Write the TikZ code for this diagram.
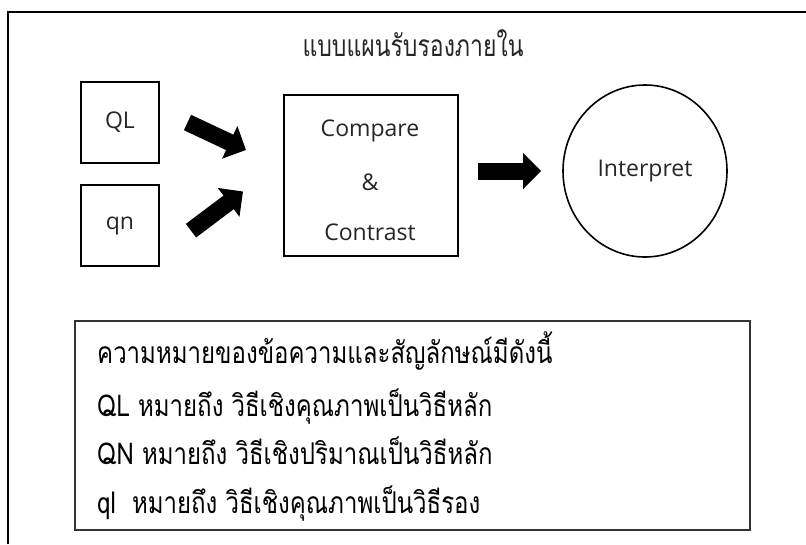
\documentclass[tikz,border=0pt]{standalone}
\usepackage{fontspec}
\setmainfont{Open Sans}
\newfontfamily\thaifont[Script=Thai]{Loma}
\usetikzlibrary{arrows.meta,shapes.geometric}
\newcommand{\tallthai}[1]{\scalebox{1}[1.3]{#1}}
\newcommand{\talllegend}[1]{\scalebox{1}[1.25]{#1}}
\tikzset{
  frameline/.style={line width=1.4pt, black},
  inbox/.style={draw=black, line width=1.8pt, inner sep=0pt, font=\fontsize{23}{27}\selectfont, text=black!85},
  lbl/.style={font=\fontsize{23}{27}\selectfont, text=black!85, inner sep=0pt},
  bigarrow/.style={line width=17pt, -{Triangle[length=18pt,width=35pt]}},
  thaitext/.style={anchor=base west, inner sep=0pt, font=\thaifont\fontsize{24}{28}\selectfont, text=black},
}
\begin{document}
\begin{tikzpicture}[x=1pt,y=-1pt]
\useasboundingbox (0,0) rectangle (806,544);
\fill[white] (0,0) rectangle (806,544);
% outer frame (open on the right and bottom)
\coordinate (fb) at (8,544);
\coordinate (fr) at (806,12);
\draw[frameline] (fb) |- (fr);
% title
\node[anchor=base, inner sep=0pt, font=\thaifont\fontsize{23}{27}\selectfont, text=black!85] (title) at (413,56) {\tallthai{แบบแผนรับรองภายใน}};
% boxes
\node[inbox, minimum width=78pt, minimum height=81pt] (ql) at (120,122.5) {QL};
\node[inbox, minimum width=78pt, minimum height=81pt] (qn) at (120,225.5) {qn};
\node[inbox, minimum width=174pt, minimum height=161pt] (cc) at (371,175.5) {};
\node[lbl] (t1) at (370,131) {Compare};
\node[lbl] (t2) at (370,182) {\&};
\node[lbl] (t3) at (370,232) {Contrast};
\node[draw=black, line width=1.6pt, ellipse, minimum width=164pt, minimum height=172pt, inner sep=0pt, font=\fontsize{23}{27}\selectfont, text=black!85] (ip) at (645,171) {Interpret};
% block arrows
\coordinate (a1s) at (187.5,122.5);
\coordinate (a1e) at (246,150);
\coordinate (a2s) at (191,230.7);
\coordinate (a2e) at (243,191.5);
\draw[bigarrow] (a1s) -- (a1e);
\draw[bigarrow] (a2s) -- (a2e);
\draw[bigarrow, shorten <=19pt, shorten >=21pt] (cc.east |- ip.center) -- (ip.west);
% legend box
\node[draw=black!80, line width=1.1pt, minimum width=675pt, minimum height=209pt, inner sep=0pt] (legend) at (412.5,425.5) {};
\node[thaitext] (l1) at (97,363) {\talllegend{ความหมายของข้อความและสัญลักษณ์มีดังนี้}};
\node[thaitext] (l2) at (97,416) {\talllegend{QL หมายถึง วิธีเชิงคุณภาพเป็นวิธีหลัก}};
\node[thaitext] (l3) at (97,464) {\talllegend{QN หมายถึง วิธีเชิงปริมาณเป็นวิธีหลัก}};
\node[thaitext] (l4) at (97,513) {\talllegend{ql\ \ หมายถึง วิธีเชิงคุณภาพเป็นวิธีรอง}};
\end{tikzpicture}
\end{document}
